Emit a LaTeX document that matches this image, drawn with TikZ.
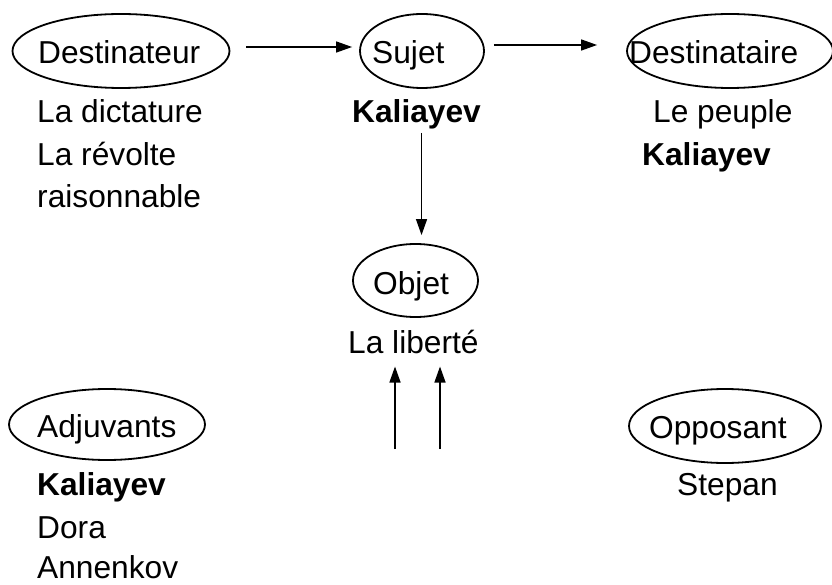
\documentclass[tikz,border=0pt]{standalone}
\usepackage{fontspec}
\setmainfont{Liberation Sans}
\usepackage{tikz}
\usetikzlibrary{shapes,arrows.meta}

\tikzset{
  actant/.style={draw, ellipse, line width=1.8pt, inner sep=0pt, minimum height=74pt},
  mot/.style={inner sep=0pt, anchor=base west},
  fleche/.style={-{Triangle[length=16pt,width=11pt]}, line width=1.4pt}
}

\begin{document}
\begin{tikzpicture}[x=1pt, y=-1pt, font=\fontsize{31.7pt}{40pt}\selectfont]
\useasboundingbox (0,0) rectangle (832,585);

% les actants
\node[actant, minimum width=217pt] (destinateur) at (121,51) {};
\node[mot] (tDestinateur) at (38,64) {Destinateur};
\node[actant, minimum width=124pt] (sujet) at (422,51) {};
\node[mot] (tSujet) at (372,64) {Sujet};
\node[actant, minimum width=206pt] (destinataire) at (730,51) {};
\node[mot] (tDestinataire) at (629,64) {Destinataire};
\node[actant, minimum width=125pt, minimum height=73pt] (objet) at (415.5,280.5) {};
\node[mot] (tObjet) at (373,294.5) {Objet};
\node[actant, minimum width=196pt, minimum height=71pt] (adjuvants) at (107,424.5) {};
\node[mot] (tAdjuvants) at (37,437.5) {Adjuvants};
\node[actant, minimum width=192pt] (opposant) at (725,426) {};
\node[mot] (tOpposant) at (649,438) {Opposant};

% les personnages
\node[mot] (dictature) at (37,123) {La dictature};
\node[mot] (revolte) at (37,166) {La révolte};
\node[mot] (raison) at (37,208) {raisonnable};
\node[mot] (sujetK) at (352,123) {\textbf{Kaliayev}};
\node[mot] (peuple) at (653,123) {Le peuple};
\node[mot] (destK) at (642,166) {\textbf{Kaliayev}};
\node[mot] (liberte) at (348,353) {La liberté};
\node[mot] (adjK) at (37,495) {\textbf{Kaliayev}};
\node[mot] (dora) at (37,538) {Dora};
\node[mot] (annenkov) at (37,578) {Annenkov};
\node[mot] (stepan) at (677,495) {Stepan};

% les fleches
\draw[fleche, shorten <=16pt, shorten >=7pt] ([yshift=4pt]destinateur.east) -- ([yshift=4pt]destinateur.east -| sujet.west);
\draw[fleche, shorten <=9pt, shorten >=29pt] ([yshift=6pt]sujet.east) -- ([yshift=6pt]sujet.east -| destinataire.west);

\coordinate (haut) at ([xshift=5pt]sujetK.south);
\draw[fleche, shorten <=3pt, shorten >=8pt] (haut) -- (haut |- objet.north);

\coordinate (pied1) at (395,449);
\coordinate (pied2) at (440,449);
\draw[fleche, shorten >=13pt] (pied1) -- (pied1 |- liberte.south);
\draw[fleche, shorten >=13pt] (pied2) -- (pied2 |- liberte.south);
\end{tikzpicture}
\end{document}
